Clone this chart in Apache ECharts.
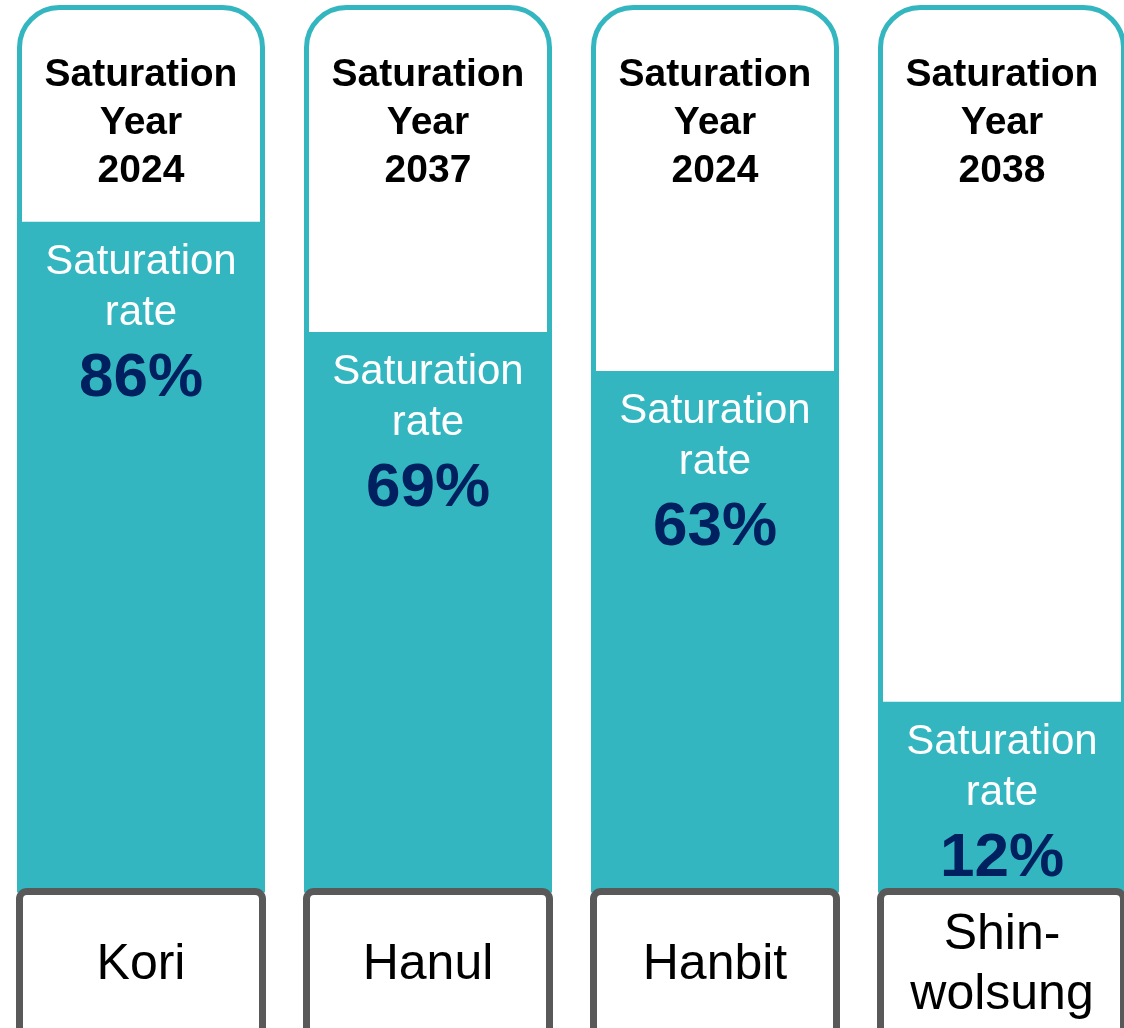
<!DOCTYPE html>
<html>
<head>
<meta charset="utf-8">
<script src="https://cdn.jsdelivr.net/npm/echarts@6/dist/echarts.min.js"></script>
<style>
  html, body { margin: 0; padding: 0; background: #fff; }
  #main { width: 1124px; height: 1028px; }
</style>
</head>
<body>
<div id="main"></div>
<script>
// data
var plants = ['Kori', 'Hanul', 'Hanbit', 'Shin-wolsung'];
var saturationYear = [2024, 2037, 2024, 2038];
var saturationRate = [86, 69, 63, 12];

var font = '"Liberation Sans", Arial, sans-serif';
var teal = '#33B6C0';

var myChart = echarts.init(document.getElementById('main'));
myChart.setOption({
    animation: false,
    grid: { left: -2.5, width: 1148, top: 7.5, bottom: 138, outerBoundsMode: 'none', containLabel: false },
    xAxis: [
        {
            type: 'category',
            data: plants,
            position: 'bottom',
            z: 5,
            axisLine: { show: false },
            axisTick: { show: false },
            axisLabel: {
                interval: 0,
                margin: 5,
                width: 236,
                backgroundColor: '#fff',
                borderColor: '#595959',
                borderWidth: 7,
                borderRadius: 4,
                padding: [10, 0, 40, 0],
                formatter: function (v) {
                    var lines = v.replace('-', '-\n').split('\n');
                    if (lines.length === 1) return '{k|' + v + '}';
                    return lines.map(function (l) { return '{n|' + l + '}'; }).join('\n');
                },
                rich: {
                    k: { fontSize: 50, lineHeight: 120, color: '#000', fontFamily: font, align: 'center' },
                    n: { fontSize: 50, lineHeight: 60, color: '#000', fontFamily: font, align: 'center' }
                }
            }
        },
        {
            type: 'category',
            data: plants,
            position: 'top',
            z: 5,
            axisLine: { show: false },
            axisTick: { show: false },
            axisLabel: {
                interval: 0,
                inside: true,
                margin: 44,
                formatter: function (v, i) {
                    return 'Saturation\nYear\n' + saturationYear[i];
                },
                fontSize: 39,
                fontWeight: 'bold',
                lineHeight: 48,
                color: '#000',
                fontFamily: font
            }
        }
    ],
    // bars rise from the axis floor, not from zero
    yAxis: { type: 'value', min: -17, max: 119, startValue: -17, show: false },
    series: [
        {
            type: 'bar',
            data: saturationRate,
            barWidth: 243,
            showBackground: true,
            backgroundStyle: {
                color: '#fff',
                borderColor: teal,
                borderWidth: 5,
                borderRadius: [40, 40, 0, 0]
            },
            itemStyle: { color: teal, borderColor: teal, borderWidth: 5 },
            label: {
                show: true,
                position: 'insideTop',
                distance: 15,
                formatter: function (p) {
                    return '{s|Saturation}\n{s|rate}\n{p|' + p.value + '%}';
                },
                rich: {
                    s: { fontSize: 42, lineHeight: 51, color: '#fff', fontFamily: font, align: 'center' },
                    p: { fontSize: 62, lineHeight: 80, color: '#002060', fontWeight: 'bold', fontFamily: font, align: 'center' }
                }
            }
        }
    ]
});
</script>
</body>
</html>
